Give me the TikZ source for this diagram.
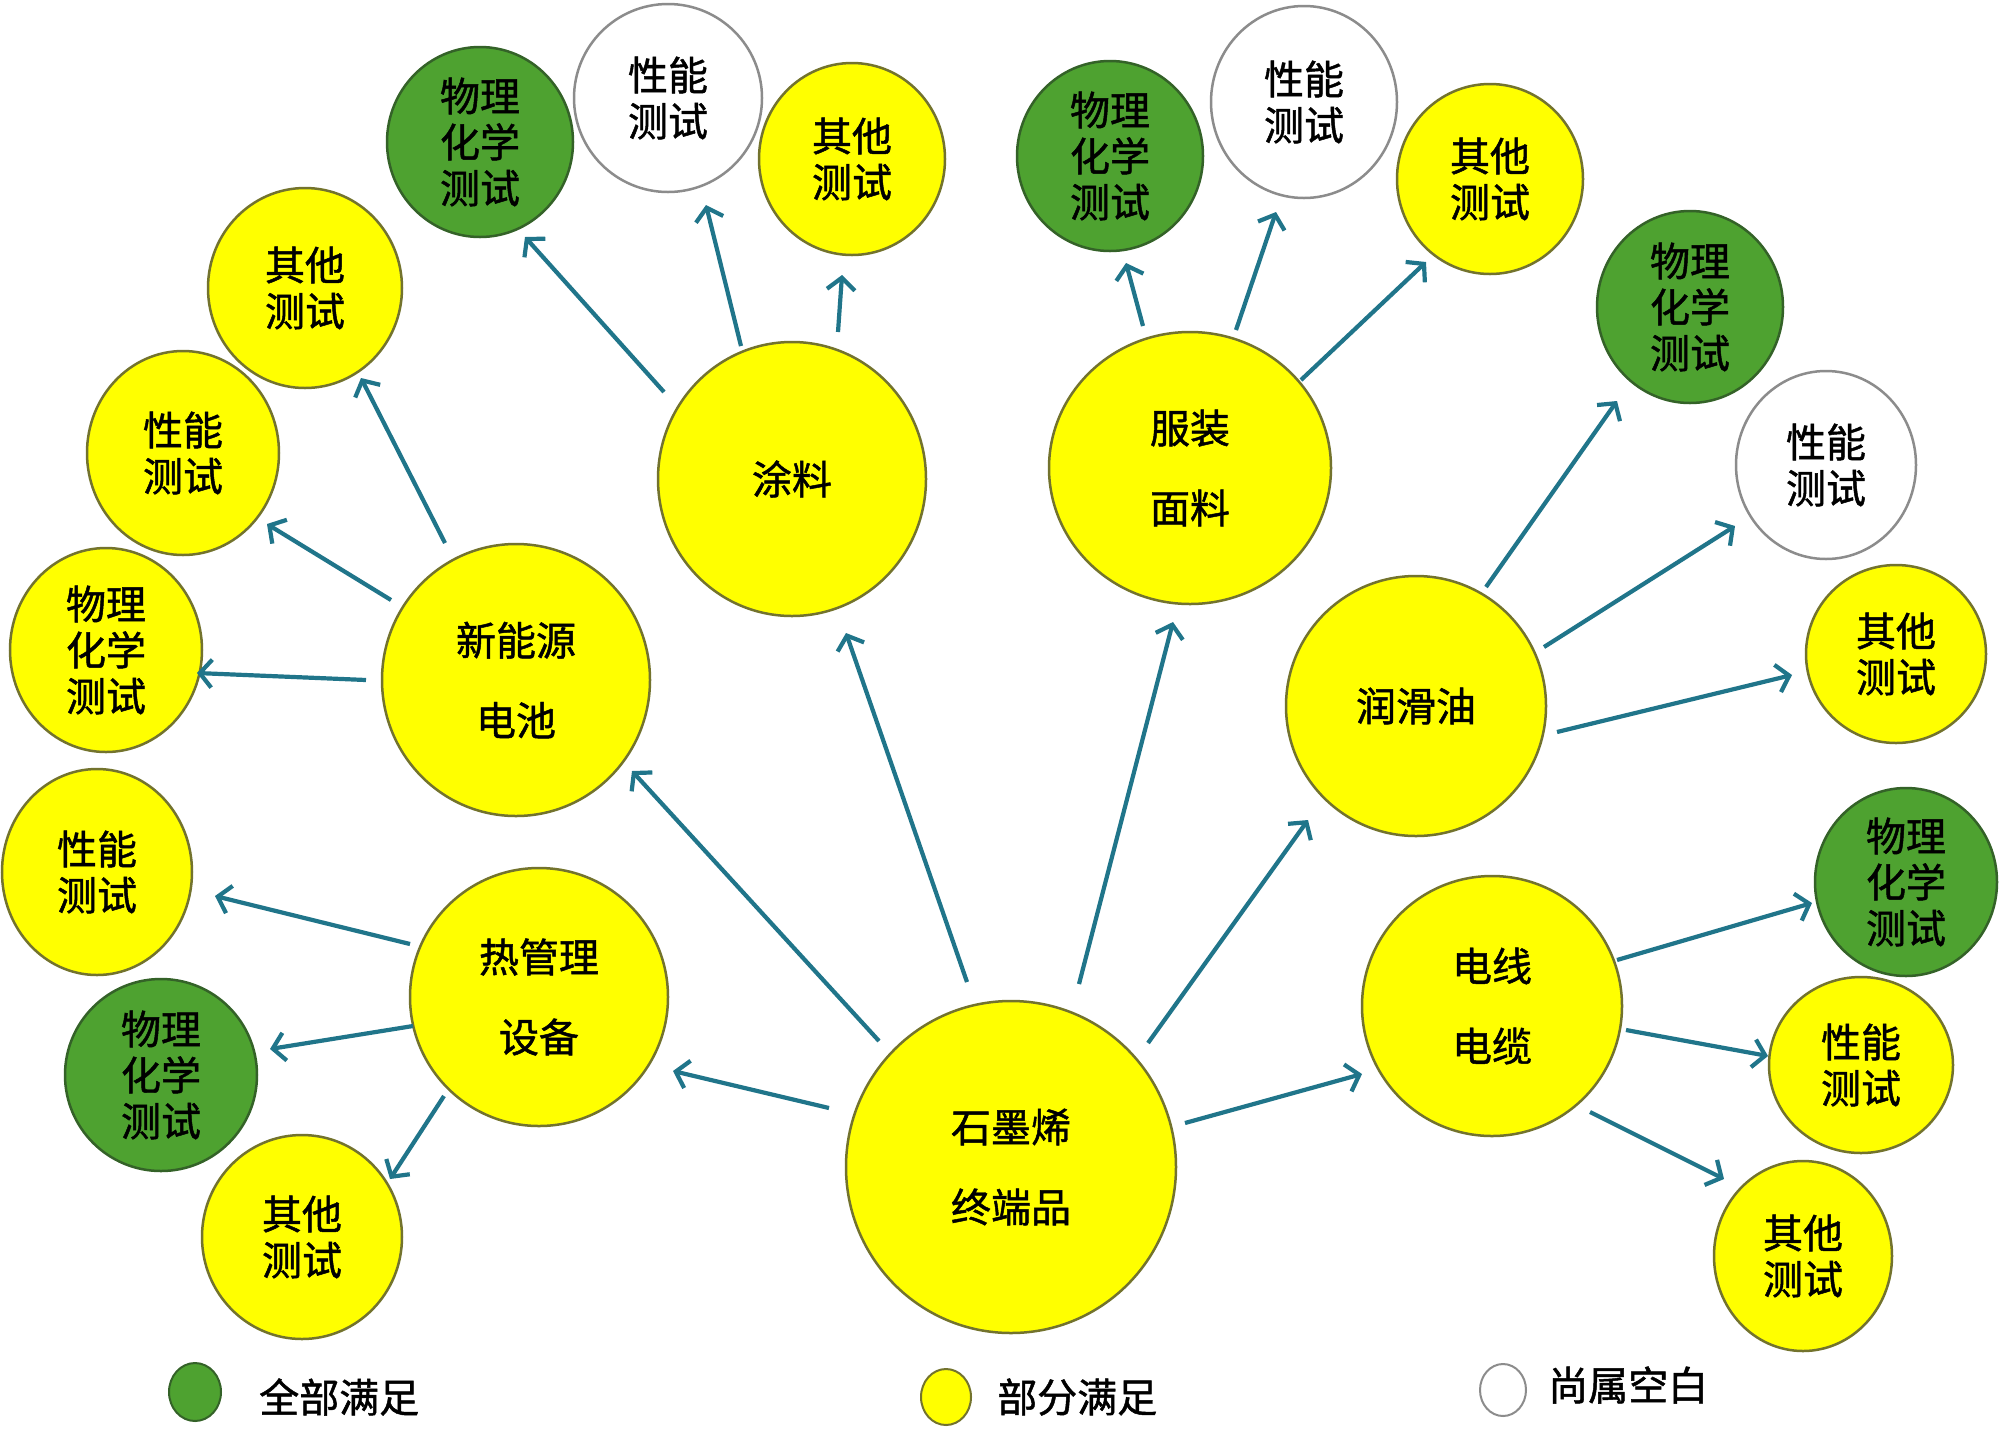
\documentclass[tikz,border=0pt]{standalone}
\usepackage{fontspec}
\setmainfont{Noto Sans CJK SC}[FakeBold=1.2]
\usetikzlibrary{shapes.geometric,arrows.meta,calc}
\definecolor{yfill}{RGB}{255,255,0}
\definecolor{ydraw}{RGB}{115,115,45}
\definecolor{gfill}{RGB}{78,162,48}
\definecolor{gdraw}{RGB}{52,98,40}
\definecolor{wdraw}{RGB}{140,140,140}
\definecolor{arrc}{RGB}{32,117,138}
\begin{document}
\begin{tikzpicture}[x=1pt,y=-1pt,
  bub/.style={ellipse, inner sep=0pt, line width=2.5pt, align=center,
    font=\fontsize{40}{46}\selectfont},
  big/.style={font=\fontsize{40}{80}\selectfont},
  yb/.style={bub, draw=ydraw, fill=yfill},
  gb/.style={bub, draw=gdraw, fill=gfill},
  wb/.style={bub, draw=wdraw, fill=white},
  sz/.style 2 args={minimum width=#1, minimum height=#2},
  lgd/.style={ellipse, inner sep=0pt, line width=2pt},
  lgt/.style={anchor=west, inner sep=0pt, font=\fontsize{40}{46}\selectfont},
  arr/.style={draw=arrc, line width=4.2pt, -{Straight Barb[length=12pt,width=28pt]}}
]
\useasboundingbox (0,0) rectangle (2000,1428);
\fill[white] (0,0) rectangle (2000,1428);

% main nodes
\node[yb,big,sz={330}{332}] (C) at (1011,1167) {石墨烯\\终端品};
\node[yb,big,sz={268}{274}] (T) at (792,479) {涂料};
\node[yb,big,sz={282}{272}] (F) at (1190,468) {服装\\面料};
\node[yb,big,sz={268}{272}] (N) at (516,680) {新能源\\电池};
\node[yb,big,sz={258}{258}] (H) at (539,997) {热管理\\设备};
\node[yb,big,sz={260}{260}] (R) at (1416,706) {润滑油};
\node[yb,big,sz={260}{260}] (E) at (1492,1006) {电线\\电缆};

% test nodes
\node[gb,sz={186}{190}] (T1) at (480,142) {物理\\化学\\测试};
\node[wb,sz={188}{188}] (T2) at (668,98) {性能\\测试};
\node[yb,sz={186}{192}] (T3) at (852,159) {其他\\测试};

\node[gb,sz={186}{190}] (F1) at (1110,156) {物理\\化学\\测试};
\node[wb,sz={186}{192}] (F2) at (1304,102) {性能\\测试};
\node[yb,sz={186}{190}] (F3) at (1490,179) {其他\\测试};

\node[gb,sz={186}{192}] (R1) at (1690,307) {物理\\化学\\测试};
\node[wb,sz={180}{188}] (R2) at (1826,465) {性能\\测试};
\node[yb,sz={180}{178}] (R3) at (1896,654) {其他\\测试};

\node[gb,sz={182}{188}] (E1) at (1906,882) {物理\\化学\\测试};
\node[yb,sz={184}{176}] (E2) at (1861,1065) {性能\\测试};
\node[yb,sz={178}{190}] (E3) at (1803,1256) {其他\\测试};

\node[yb,sz={194}{200}] (N1) at (305,288) {其他\\测试};
\node[yb,sz={192}{204}] (N2) at (183,453) {性能\\测试};
\node[yb,sz={192}{204}] (N3) at (106,650) {物理\\化学\\测试};

\node[yb,sz={190}{206}] (H1) at (97,872) {性能\\测试};
\node[gb,sz={192}{192}] (H2) at (161,1075) {物理\\化学\\测试};
\node[yb,sz={200}{204}] (H3) at (302,1237) {其他\\测试};

% arrows from centre
\draw[arr] ($(C)+(-132,-126)$) -- ($(N)+(116,91)$);
\draw[arr] ($(C)+(-44,-185)$) -- ($(T)+(54,154)$);
\draw[arr] ($(C)+(68,-183)$) -- ($(F)+(-17,154)$);
\draw[arr] ($(C)+(137,-124)$) -- ($(R)+(-108,114)$);
\draw[arr] ($(C)+(174,-44)$) -- ($(E)+(-130,68)$);
\draw[arr] ($(C)+(-182,-59)$) -- ($(H)+(134,74)$);

% coatings
\draw[arr] ($(T)+(-128,-87)$) -- ($(T1)+(45,95)$);
\draw[arr] ($(T)+(-51,-133)$) -- ($(T2)+(38,107)$);
\draw[arr] ($(T)+(46,-147)$) -- ($(T3)+(-10,116)$);
% clothing
\draw[arr] ($(F)+(-47,-142)$) -- ($(F1)+(16,107)$);
\draw[arr] ($(F)+(46,-138)$) -- ($(F2)+(-28,110)$);
\draw[arr] ($(F)+(111,-88)$) -- ($(F3)+(-64,83)$);
% battery
\draw[arr] ($(N)+(-71,-137)$) -- ($(N1)+(56,90)$);
\draw[arr] ($(N)+(-125,-80)$) -- ($(N2)+(84,71)$);
\draw[arr] ($(N)+(-150,0)$) -- ($(N3)+(91,23)$);
% thermal
\draw[arr] ($(H)+(-129,-53)$) -- ($(H1)+(118,24)$);
\draw[arr] ($(H)+(-126,29)$) -- ($(H2)+(109,-26)$);
\draw[arr] ($(H)+(-95,99)$) -- ($(H3)+(88,-58)$);
% lubricant
\draw[arr] ($(R)+(70,-119)$) -- ($(R1)+(-73,94)$);
\draw[arr] ($(R)+(128,-59)$) -- ($(R2)+(-91,61)$);
\draw[arr] ($(R)+(141,26)$) -- ($(R3)+(-104,21)$);
% cables
\draw[arr] ($(E)+(125,-46)$) -- ($(E1)+(-94,21)$);
\draw[arr] ($(E)+(134,24)$) -- ($(E2)+(-93,-9)$);
\draw[arr] ($(E)+(98,106)$) -- ($(E3)+(-79,-77)$);

% legend
\node[lgd, draw=gdraw, fill=gfill, sz={52}{58}] (LG) at (195,1392) {};
\node[lgt] (LGt) at (259,1397) {全部满足};
\node[lgd, draw=ydraw, fill=yfill, sz={50}{56}] (LY) at (946,1397) {};
\node[lgt] (LYt) at (997,1397) {部分满足};
\node[lgd, draw=wdraw, fill=white, sz={46}{52}] (LW) at (1503,1390) {};
\node[lgt] (LWt) at (1548,1385) {尚属空白};
\end{tikzpicture}
\end{document}
